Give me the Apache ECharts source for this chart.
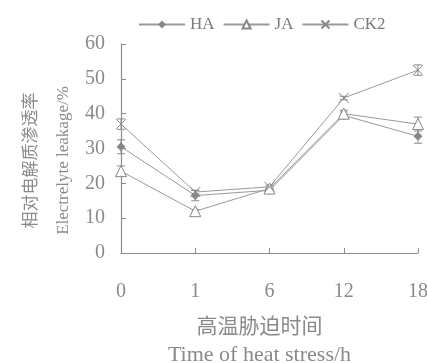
<!DOCTYPE html>
<html>
<head>
<meta charset="utf-8">
<script src="https://cdn.jsdelivr.net/npm/echarts@6/dist/echarts.min.js"></script>
<style>
  html, body { margin: 0; padding: 0; background: #fff; }
  #chart { width: 427px; height: 363px; }
</style>
</head>
<body>
<div id="chart"></div>
<script>
// heat stress time (h)
const timeLabels = ['0', '1', '6', '12', '18'];
// electrolyte leakage (%)
const haValues = [30.5, 16.5, 18, 39.5, 33.5];
const jaValues = [23.5, 12, 18.5, 40, 37];
const ck2Values = [37, 17.5, 19, 44.5, 52.5];
// error bars
const haErrors = [2, 1.5, 0.5, 1, 2];
const jaErrors = [1.5, 0.5, 0.5, 1, 2];
const ck2Errors = [1.5, 0.5, 0.5, 0.5, 1.5];

const grey = '#8c8c8c';
const serif = '"Liberation Serif", "DejaVu Serif", serif';
const cjk = '"Noto Sans CJK SC", sans-serif';

let chart = echarts.init(document.getElementById('chart'));

function errorSeries(values, errors) {
  let data = values.map(function (v, i) { return [i, v, errors[i]]; });
  return {
    type: 'custom',
    silent: true,
    z: 1,
    data: data,
    renderItem: function (params, api) {
      let i = api.value(0), v = api.value(1), e = api.value(2);
      let hi = api.coord([i, v + e]);
      let lo = api.coord([i, v - e]);
      let w = 4;
      let st = { stroke: grey, lineWidth: 1 };
      return {
        type: 'group',
        children: [
          { type: 'line', shape: { x1: hi[0], y1: hi[1], x2: lo[0], y2: lo[1] }, style: st },
          { type: 'line', shape: { x1: hi[0] - w, y1: hi[1], x2: hi[0] + w, y2: hi[1] }, style: st },
          { type: 'line', shape: { x1: lo[0] - w, y1: lo[1], x2: lo[0] + w, y2: lo[1] }, style: st }
        ]
      };
    }
  };
}

let lineStyle = { color: '#9a9a9a', width: 1 };

let options = {
  backgroundColor: '#fff',
  animation: false,
  legend: {
    data: ['HA', 'JA', 'CK2'],
    left: 133,
    top: 11,
    itemWidth: 46,
    itemHeight: 10,
    itemGap: 8,
    textStyle: { fontFamily: serif, fontSize: 17, color: '#7a7a7a' }
  },
  grid: {
    left: 121,
    right: 9,
    top: 44,
    bottom: 110,
    containLabel: false,
    outerBoundsMode: 'none'
  },
  xAxis: {
    type: 'category',
    boundaryGap: false,
    data: timeLabels,
    axisLine: { lineStyle: { color: grey, width: 1.2 } },
    axisTick: { inside: true, length: 5, lineStyle: { color: grey } },
    axisLabel: { margin: 29, fontFamily: serif, fontSize: 20, color: '#8a8a8a' },
    name: '{cn|高温胁迫时间}\n{en|Time of heat stress/h}',
    nameLocation: 'middle',
    nameGap: 57,
    nameTextStyle: {
      padding: [0, 20, 0, 0],
      rich: {
        cn: { fontFamily: cjk, fontSize: 21, color: '#8a8a8a', lineHeight: 30 },
        en: { fontFamily: serif, fontSize: 22, color: '#8a8a8a', lineHeight: 30 }
      }
    }
  },
  yAxis: {
    type: 'value',
    min: 0,
    max: 60,
    interval: 10,
    splitLine: { show: false },
    axisLine: { show: true, lineStyle: { color: grey, width: 1.2 } },
    axisTick: { show: true, inside: true, length: 5, lineStyle: { color: grey } },
    axisLabel: { margin: 16, padding: [7, 0, 0, 0], fontFamily: serif, fontSize: 20, color: '#8a8a8a' },
    name: '{cn|相对电解质渗透率}\n{en|Electrelyte leakage/%}',
    nameLocation: 'middle',
    nameRotate: 90,
    nameGap: 40,
    nameTextStyle: {
      padding: [0, 24, 0, 0],
      rich: {
        cn: { fontFamily: cjk, fontSize: 17, color: '#8a8a8a', lineHeight: 34 },
        en: { fontFamily: serif, fontSize: 17, color: '#8a8a8a', lineHeight: 34 }
      }
    }
  },
  series: [
    {
      name: 'HA',
      type: 'line',
      data: haValues,
      symbol: 'diamond',
      symbolSize: 9,
      itemStyle: { color: '#888' },
      lineStyle: lineStyle,
      z: 3
    },
    {
      name: 'JA',
      type: 'line',
      data: jaValues,
      symbol: 'triangle',
      symbolSize: 11,
      itemStyle: { color: '#fff', borderColor: '#888', borderWidth: 1 },
      lineStyle: lineStyle,
      z: 3
    },
    {
      name: 'CK2',
      type: 'line',
      data: ck2Values,
      symbol: 'path://M0,0L10,10M10,0L0,10',
      symbolSize: 10,
      itemStyle: { color: 'none', borderColor: '#888', borderWidth: 1 },
      lineStyle: lineStyle,
      z: 3
    },
    errorSeries(haValues, haErrors),
    errorSeries(jaValues, jaErrors),
    errorSeries(ck2Values, ck2Errors)
  ]
};

chart.setOption(options);
</script>
</body>
</html>
